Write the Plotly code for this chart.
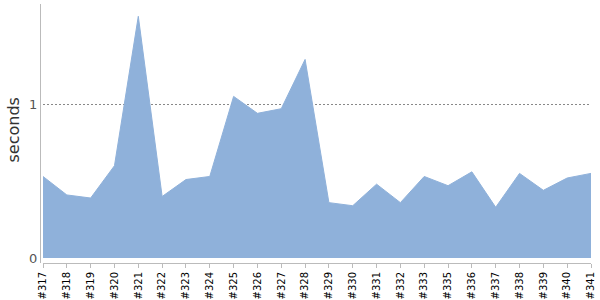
import plotly.graph_objects as go

builds = ["#317","#318","#319","#320","#321","#322","#323","#324","#325","#326","#327","#328",
          "#329","#330","#331","#332","#333","#335","#336","#337","#338","#339","#340","#341"]
seconds = [0.53,0.41,0.39,0.60,1.57,0.40,0.51,0.53,1.05,0.94,0.97,1.29,
           0.36,0.34,0.48,0.36,0.53,0.47,0.56,0.33,0.55,0.44,0.52,0.55]
y_title = "seconds"

fill_color = "rgb(143,177,218)"

fig = go.Figure(go.Scatter(
    x=builds, y=seconds, mode="lines", fill="tozeroy",
    line=dict(color=fill_color, width=1), fillcolor=fill_color, hoverinfo="x+y"))

fig.update_layout(
    width=600, height=300,
    margin=dict(l=40, r=9, t=4, b=37),
    plot_bgcolor="white", paper_bgcolor="white",
    showlegend=False,
    font=dict(family="DejaVu Sans", color="#444"),
    xaxis=dict(
        type="category", domain=[3/551, 1], range=[0, len(builds) - 1],
        automargin=False,
        showline=True, linecolor="#bbb", linewidth=1,
        ticks="outside", ticklen=4, tickcolor="#bbb",
        tickangle=-90, tickfont=dict(size=10, color="#000"),
        showgrid=False, zeroline=False,
    ),
    yaxis=dict(
        anchor="free", position=0, automargin=False,
        range=[-0.032, 1.65], tickvals=[0, 1], ticktext=["0", "1"],
        showline=True, linecolor="#bbb", linewidth=1,
        ticks="", tickfont=dict(size=13, color="#555"),
        showgrid=True, gridcolor="#888", gridwidth=1, griddash="2px,2px",
        zeroline=True, zerolinecolor="rgba(0,0,0,0)",
        layer="above traces",
    ),
    annotations=[dict(
        text=y_title, textangle=-90, xref="paper", yref="paper",
        x=0, y=0.5, xanchor="center", yanchor="middle",
        xshift=-27, yshift=3, showarrow=False,
        font=dict(size=16, color="#333"),
    )],
)

fig.write_html("out.html")
